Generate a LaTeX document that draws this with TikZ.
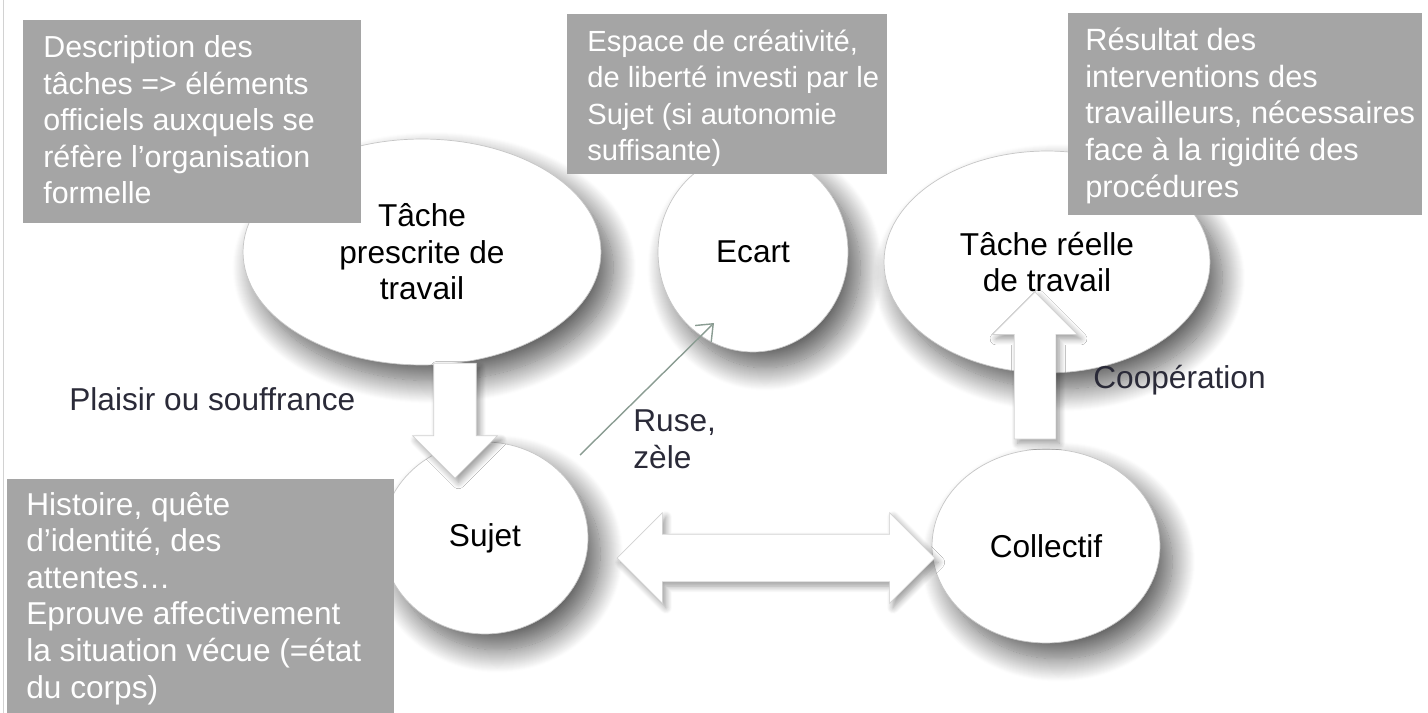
\documentclass[tikz,border=0pt]{standalone}
\usepackage{fontspec}
\setmainfont{Liberation Sans}
\usepackage{xcolor}
\usepackage{tikz}
\usetikzlibrary{positioning,arrows.meta,shapes.geometric,shapes.arrows,shadows.blur}
\definecolor{notegray}{HTML}{A5A5A5}
\definecolor{lblink}{HTML}{2A2A38}
\definecolor{ruseline}{HTML}{8A9C92}

\begin{document}
\begin{tikzpicture}[x=0.02cm, y=-0.02cm,
	bubble/.style={ellipse, draw=gray!45, line width=0.4pt, fill=white, inner sep=0pt, align=center, font=\fontsize{18}{20.8}\selectfont,
		blur shadow={shadow xshift=7pt, shadow yshift=-9pt, shadow blur radius=13pt, shadow blur steps=24, shadow opacity=65}},
	note/.style={fill=notegray, inner sep=0pt, anchor=north west},
	notetxt/.style={text=white, align=left, inner sep=0pt, anchor=base west, font=\fontsize{17.5}{20.8}\selectfont},
	lbl/.style={text=lblink, align=left, inner sep=0pt, anchor=base west, font=\fontsize{18}{20.8}\selectfont},
	fat/.style={draw=gray!35, line width=0.4pt, fill=white,
		blur shadow={shadow xshift=2pt, shadow yshift=-2.5pt, shadow blur radius=3.5pt, shadow blur steps=10, shadow opacity=40}}]
	\useasboundingbox (0,0) rectangle (1428,713);
	\draw[gray!35, line width=0.5pt] (3,0) -- (3,713);

	% the five bubbles
	\node[bubble, minimum width=7.16cm, minimum height=4.52cm] (prescrite) at (422,252) {Tâche\\prescrite de\\travail};
	\node[bubble, minimum width=3.8cm, minimum height=4cm] (ecart) at (753,252) {Ecart};
	\node[bubble, minimum width=6.52cm, minimum height=4.44cm] (reelle) at (1047,262) {Tâche réelle\\de travail};
	\node[bubble, minimum width=4.12cm, minimum height=3.84cm] (sujet) at (485,538) {Sujet};
	\node[bubble, minimum width=4.56cm, minimum height=3.88cm] (collectif) at (1046,546) {Collectif};

	% block arrows
	\node[fat, single arrow, rotate=-90, inner sep=0.42cm, minimum height=2.3cm, minimum width=1.68cm, single arrow head extend=0.42cm] (down) at (455,410) {};
	\node[fat, double arrow, inner sep=0.47cm, minimum height=6.36cm, minimum width=1.8cm, double arrow head extend=0.43cm] (both) at (776,558) {};
	\node[fat, single arrow, rotate=90, inner sep=0.41cm, minimum height=2.94cm, minimum width=1.68cm, single arrow head extend=0.43cm] (up) at (1035,376) {};

	\coordinate (ruse) at (580,455);
	\draw[ruseline, line width=0.8pt, -{Straight Barb[length=8pt, width=13pt]}] (ruse) -- ([shift={(-39,71)}]ecart.center);

	% grey notes
	\node[note, minimum width=6.76cm, minimum height=4.06cm] (descbox) at (23,20) {};
	\node[notetxt, font=\fontsize{17.3}{20.8}\selectfont] (desc) at ([shift={(20,184)}]descbox.north west) {Description des\\tâches => éléments\\officiels auxquels se\\réfère l’organisation\\formelle};
	\node[note, minimum width=6.4cm, minimum height=3.2cm] (espbox) at (567,14) {};
	\node[notetxt, font=\fontsize{16.6}{20.8}\selectfont] (esp) at ([shift={(20,147)}]espbox.north west) {Espace de créativité,\\de liberté investi par le\\Sujet (si autonomie\\suffisante)};
	\node[note, minimum width=7.08cm, minimum height=4.04cm] (resbox) at (1068,13) {};
	\node[notetxt] (res) at ([shift={(17,184)}]resbox.north west) {Résultat des\\interventions des\\travailleurs, nécessaires\\face à la rigidité des\\procédures};
	\node[note, minimum width=7.74cm, minimum height=4.68cm] (histbox) at (7,479) {};
	\node[notetxt, font=\fontsize{18}{20.8}\selectfont] (hist) at ([shift={(19,219)}]histbox.north west) {Histoire, quête\\d’identité, des\\attentes…\\Eprouve affectivement\\la situation vécue (=état\\du corps)};

	% labels
	\node[lbl] (plaisir) at (69,410) {Plaisir ou souffrance};
	\node[lbl] (rusetxt) at (633,468) {Ruse,\\zèle};
	\node[lbl] (coop) at (1093,388) {Coopération};
\end{tikzpicture}
\end{document}
